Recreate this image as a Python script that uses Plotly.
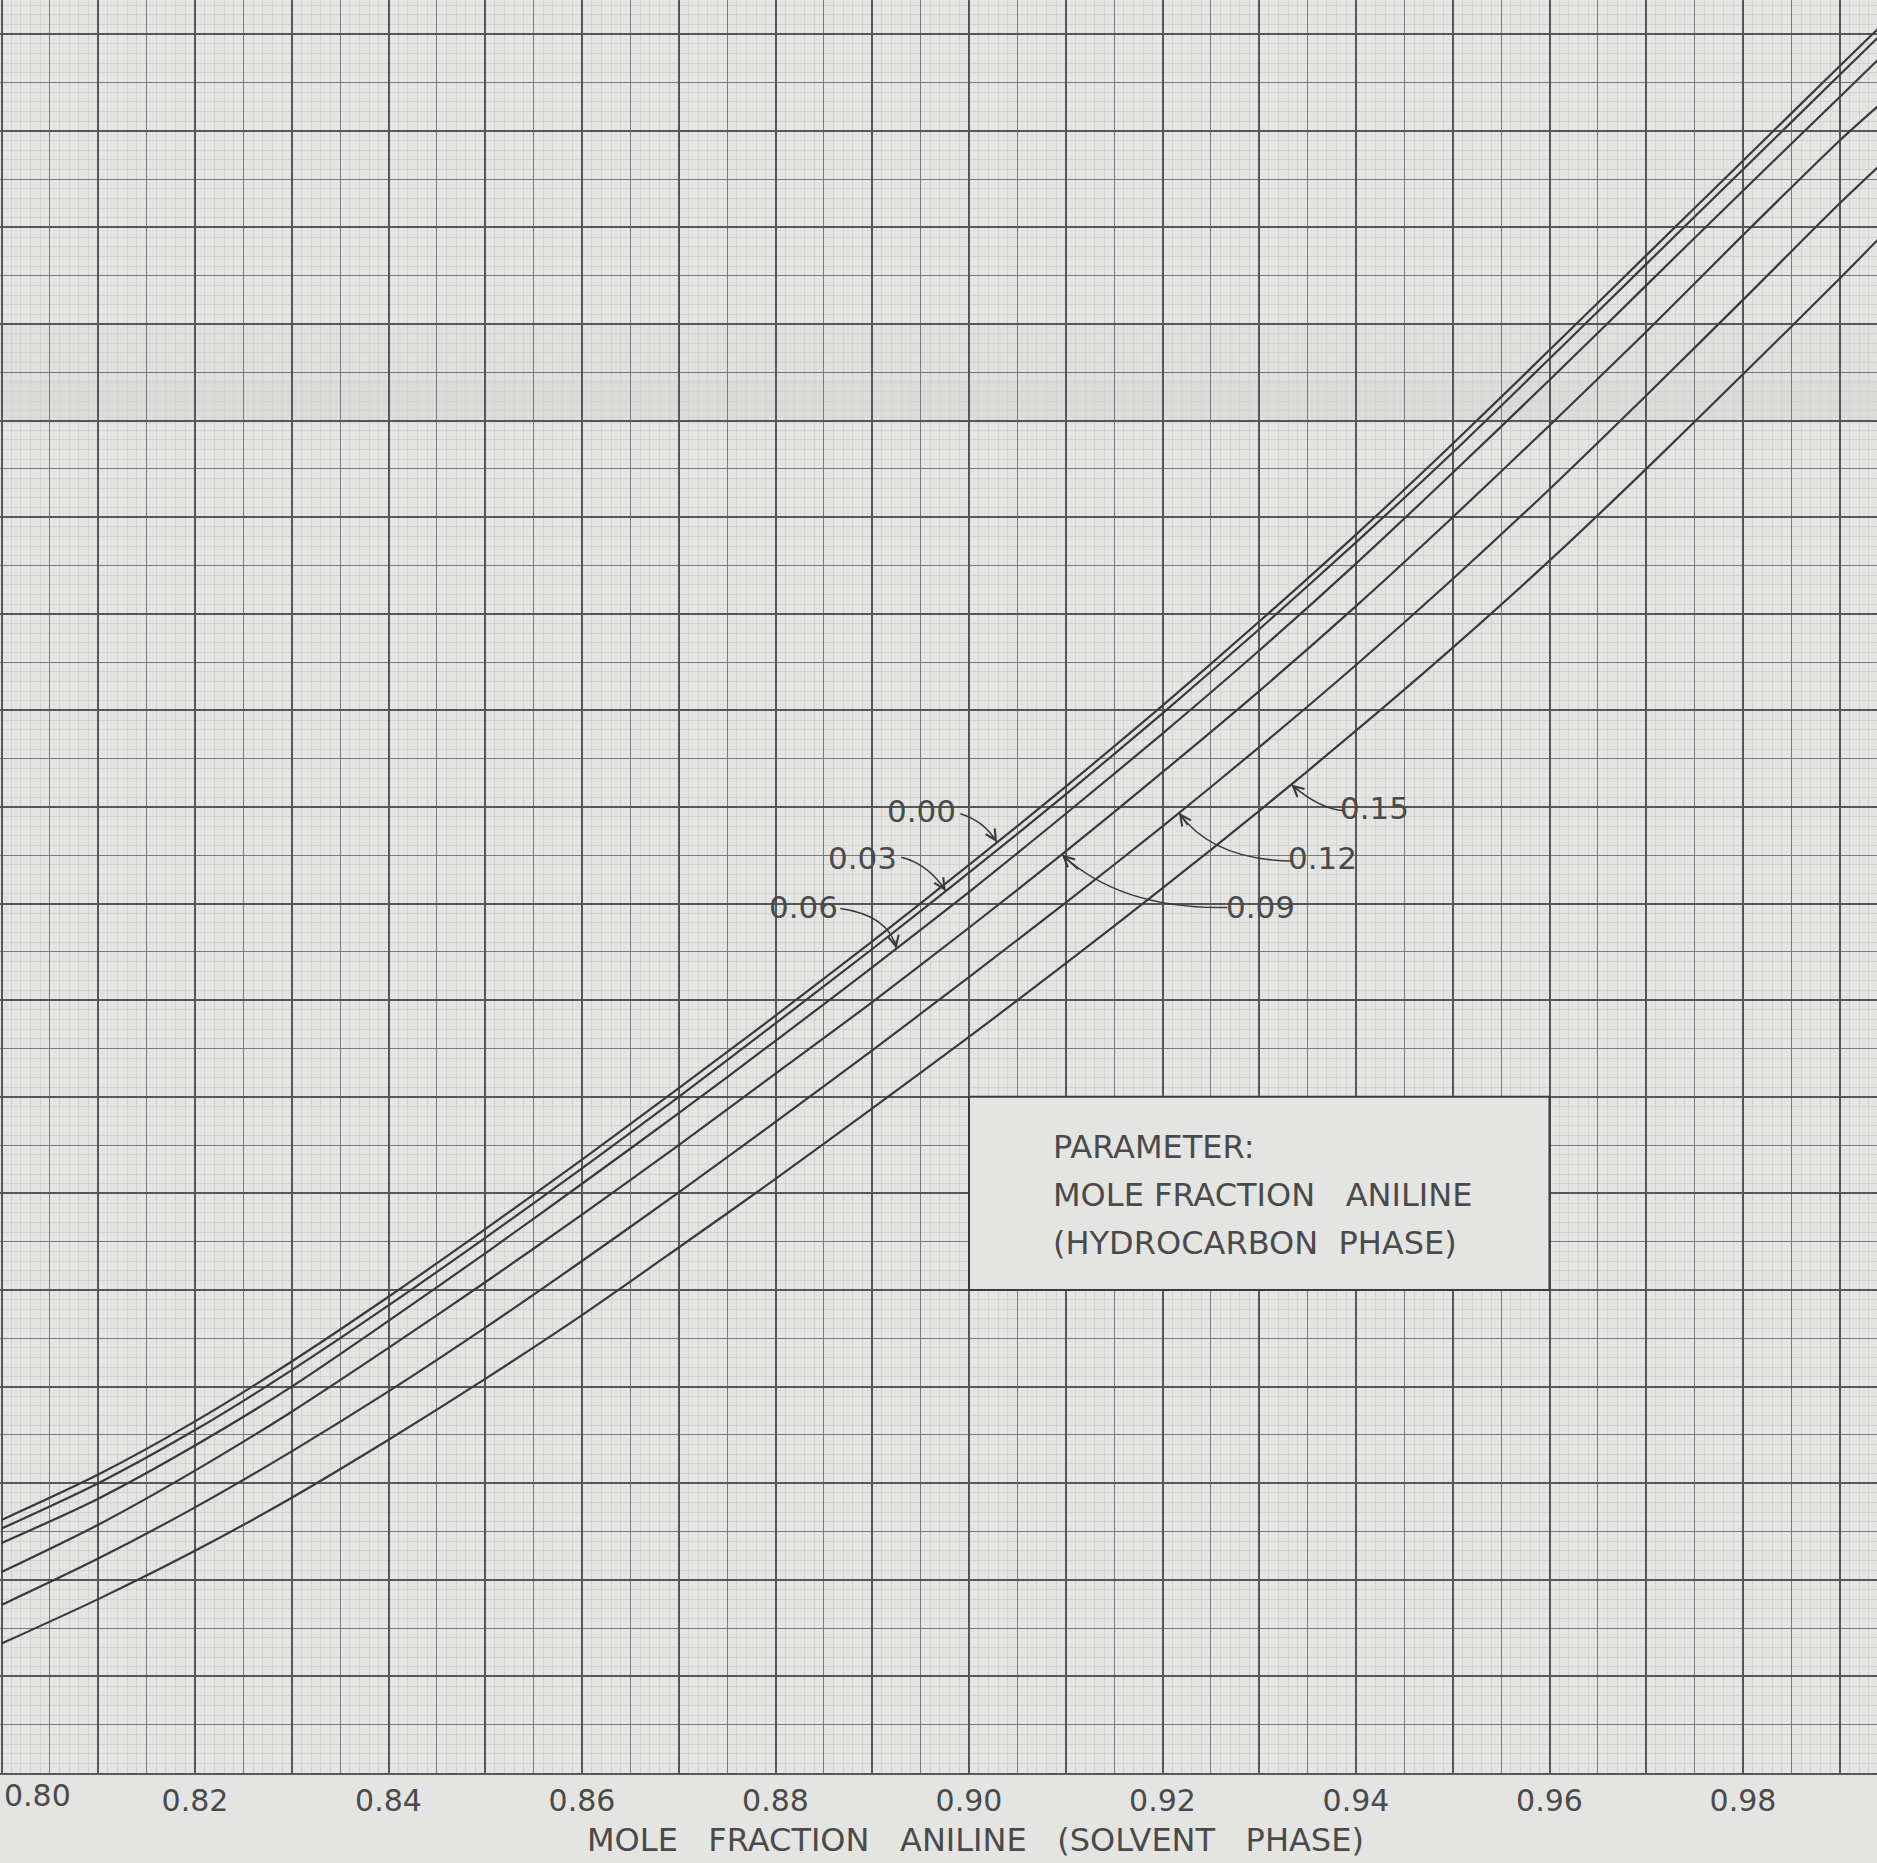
import numpy as np
import plotly.graph_objects as go

# Mole fraction aniline in the solvent phase
x_solvent = [0.80, 0.81, 0.82, 0.83, 0.84, 0.85, 0.86, 0.87, 0.88, 0.89,
             0.90, 0.91, 0.92, 0.93, 0.94, 0.95, 0.96, 0.97, 0.98, 0.99, 0.994]

# One curve per mole fraction aniline in the hydrocarbon phase
param_labels = ["0.00", "0.03", "0.06", "0.09", "0.12", "0.15"]
y_000 = [2.62, 3.09, 3.64, 4.26, 4.93, 5.63, 6.35, 7.09, 7.84, 8.61,
         9.40, 10.21, 11.05, 11.92, 12.82, 13.76, 14.73, 15.71, 16.69, 17.67, 18.06]
y_003 = [2.53, 3.00, 3.55, 4.17, 4.84, 5.54, 6.26, 7.00, 7.76, 8.53,
         9.32, 10.13, 10.97, 11.84, 12.74, 13.67, 14.64, 15.62, 16.60, 17.58, 17.97]
y_006 = [2.38, 2.84, 3.39, 4.00, 4.68, 5.38, 6.10, 6.83, 7.58, 8.34,
         9.12, 9.93, 10.76, 11.62, 12.52, 13.46, 14.42, 15.40, 16.38, 17.35, 17.74]
y_009 = [2.08, 2.57, 3.13, 3.74, 4.40, 5.08, 5.78, 6.50, 7.24, 7.98,
         8.75, 9.54, 10.36, 11.20, 12.08, 13.00, 13.95, 14.92, 15.92, 16.90, 17.26]
y_012 = [1.74, 2.22, 2.75, 3.33, 3.95, 4.61, 5.30, 6.01, 6.74, 7.48,
         8.24, 9.01, 9.80, 10.62, 11.47, 12.36, 13.29, 14.26, 15.25, 16.25, 16.63]
y_015 = [1.34, 1.80, 2.30, 2.85, 3.45, 4.08, 4.74, 5.44, 6.15, 6.88,
         7.62, 8.38, 9.16, 9.96, 10.79, 11.65, 12.55, 13.50, 14.48, 15.47, 15.88]
curves = [y_000, y_003, y_006, y_009, y_012, y_015]

# Curve labels: text position, leader start, leader bend, and where it meets the curve
label_x = [0.8951, 0.8890, 0.8829, 0.9301, 0.9365, 0.9419]
label_y = [9.96, 9.47, 8.97, 8.97, 9.47, 9.99]
lead_x0 = [0.8991, 0.8930, 0.8867, 0.9267, 0.9335, 0.9388]
lead_y0 = [9.93, 9.48, 8.95, 8.96, 9.44, 9.96]
lead_cx = [0.9015, 0.8958, 0.8917, 0.9157, 0.9252, 0.9362]
lead_cy = [9.86, 9.41, 8.88, 8.94, 9.45, 9.98]
tip_x = [0.9029, 0.8976, 0.8925, 0.9096, 0.9217, 0.9333]

# Bottom axis labels (0.80 sits at the left edge and is placed separately)
x_tick_vals = [0.80, 0.81, 0.82, 0.83, 0.84, 0.85, 0.86, 0.87, 0.88, 0.89,
               0.90, 0.91, 0.92, 0.93, 0.94, 0.95, 0.96, 0.97, 0.98, 0.99]
x_tick_text = ["", "", "0.82", "", "0.84", "", "0.86", "", "0.88", "",
               "0.90", "", "0.92", "", "0.94", "", "0.96", "", "0.98", ""]
first_tick_text = "0.80"

# Parameter note box (data coordinates)
box_x = [0.90, 0.96]
box_y = [5.0, 7.0]
box_lines = ["PARAMETER:",
             "MOLE FRACTION\u00a0\u00a0 ANILINE",
             "(HYDROCARBON\u00a0 PHASE)"]
box_line_y = [6.48, 5.98, 5.49]

axis_title = ("MOLE\u00a0\u00a0 FRACTION\u00a0\u00a0 ANILINE"
              "\u00a0\u00a0 (SOLVENT\u00a0\u00a0 PHASE)")

X_RANGE = [0.799845, 0.99385]
Y_RANGE = [0.0, 18.354]

PAPER = "#e4e4e2"
INK = "#3a3a3a"
TEXT = "#4a4a4a"
GRID_DARK = "#575757"
GRID_MED = "#7a7a7a"
GRID_FAINT = "#d3d3d1"
FONT = "DejaVu Sans"

fig = go.Figure()

for ys in curves:
    fig.add_trace(go.Scatter(
        x=x_solvent, y=ys, mode="lines",
        line=dict(color=INK, width=2.2, shape="spline", smoothing=0.8),
        hoverinfo="skip", showlegend=False,
    ))

# empty trace that carries the heavier graph-paper rulings
fig.add_trace(go.Scatter(x=[], y=[], xaxis="x2", yaxis="y2",
                         hoverinfo="skip", showlegend=False))

annotations = []
shapes = [
    # paper fold shading
    dict(type="rect", xref="paper", yref="paper", x0=0, x1=1,
         y0=(1773 - 423) / 1773, y1=(1773 - 325) / 1773,
         fillcolor="rgba(0,0,0,0.018)", line=dict(width=0), layer="below"),
    dict(type="rect", xref="paper", yref="paper", x0=0, x1=1,
         y0=(1773 - 423) / 1773, y1=(1773 - 380) / 1773,
         fillcolor="rgba(0,0,0,0.015)", line=dict(width=0), layer="below"),
    dict(type="rect", xref="x", yref="y",
         x0=box_x[0], x1=box_x[1], y0=box_y[0], y1=box_y[1],
         fillcolor=PAPER, line=dict(color=INK, width=2), layer="above"),
]

for i, lab in enumerate(param_labels):
    tx = tip_x[i]
    ty = float(np.interp(tx, x_solvent, curves[i]))
    # label text
    annotations.append(dict(
        x=label_x[i], y=label_y[i], xref="x", yref="y",
        text=lab, showarrow=False,
        font=dict(family=FONT, size=31, color=TEXT),
    ))
    # curved leader
    shapes.append(dict(
        type="path", xref="x", yref="y", layer="above",
        path=f"M {lead_x0[i]},{lead_y0[i]} Q {lead_cx[i]},{lead_cy[i]} {tx},{ty}",
        line=dict(color=INK, width=1.5),
    ))
    # arrowhead at the curve, aligned with the end of the leader
    hx = tx - 0.3 * (tx - lead_cx[i])
    hy = ty - 0.3 * (ty - lead_cy[i])
    annotations.append(dict(
        x=tx, y=ty, xref="x", yref="y",
        ax=hx, ay=hy, axref="x", ayref="y",
        text=" ", font=dict(size=1), showarrow=True,
        arrowhead=5, arrowsize=1.4, arrowwidth=1.5, arrowcolor=INK,
        standoff=0, startstandoff=0,
    ))

for txt, yy in zip(box_lines, box_line_y):
    annotations.append(dict(
        x=0.9085, y=yy, xref="x", yref="y", xanchor="left", yanchor="middle",
        text=txt, showarrow=False,
        font=dict(family=FONT, size=32, color=TEXT),
    ))

annotations.append(dict(
    x=0.001, y=-0.0125, xref="paper", yref="paper",
    xanchor="left", yanchor="middle",
    text=first_tick_text, showarrow=False,
    font=dict(family=FONT, size=30, color=TEXT),
))

annotations.append(dict(
    x=0.5195, y=-0.0378, xref="paper", yref="paper",
    xanchor="center", yanchor="middle",
    text=axis_title, showarrow=False,
    font=dict(family=FONT, size=32, color=TEXT),
))

fig.update_layout(
    width=1877, height=1863,
    margin=dict(l=0, r=0, t=0, b=90, autoexpand=False),
    paper_bgcolor=PAPER, plot_bgcolor=PAPER,
    showlegend=False,
    annotations=annotations,
    shapes=shapes,
    xaxis=dict(
        range=X_RANGE, tick0=0.80, dtick=0.005, automargin=False,
        showgrid=True, gridcolor=GRID_MED, gridwidth=1.4,
        minor=dict(tick0=0.80, dtick=0.001, showgrid=True,
                   gridcolor=GRID_FAINT, gridwidth=1),
        showticklabels=False, ticks="", zeroline=False, showline=False,
    ),
    yaxis=dict(
        range=Y_RANGE, tick0=0, dtick=0.5, automargin=False,
        showgrid=True, gridcolor=GRID_MED, gridwidth=1.4,
        minor=dict(tick0=0, dtick=0.1, showgrid=True,
                   gridcolor=GRID_FAINT, gridwidth=1),
        showticklabels=False, ticks="", zeroline=False, showline=False,
    ),
    xaxis2=dict(
        overlaying="x", anchor="y2", side="bottom", range=X_RANGE,
        automargin=False,
        tickmode="array", tickvals=x_tick_vals, ticktext=x_tick_text,
        showgrid=True, gridcolor=GRID_DARK, gridwidth=2,
        ticks="", ticklabeloverflow="allow",
        tickfont=dict(family=FONT, size=30, color=TEXT),
        zeroline=False, showline=True, linecolor=GRID_DARK, linewidth=2,
    ),
    yaxis2=dict(
        overlaying="y", anchor="x2", side="left", range=Y_RANGE,
        automargin=False, tick0=0, dtick=1,
        showgrid=True, gridcolor=GRID_DARK, gridwidth=2,
        showticklabels=False, ticks="", zeroline=False, showline=False,
    ),
)

fig.write_html("out.html", config={"displayModeBar": False})
